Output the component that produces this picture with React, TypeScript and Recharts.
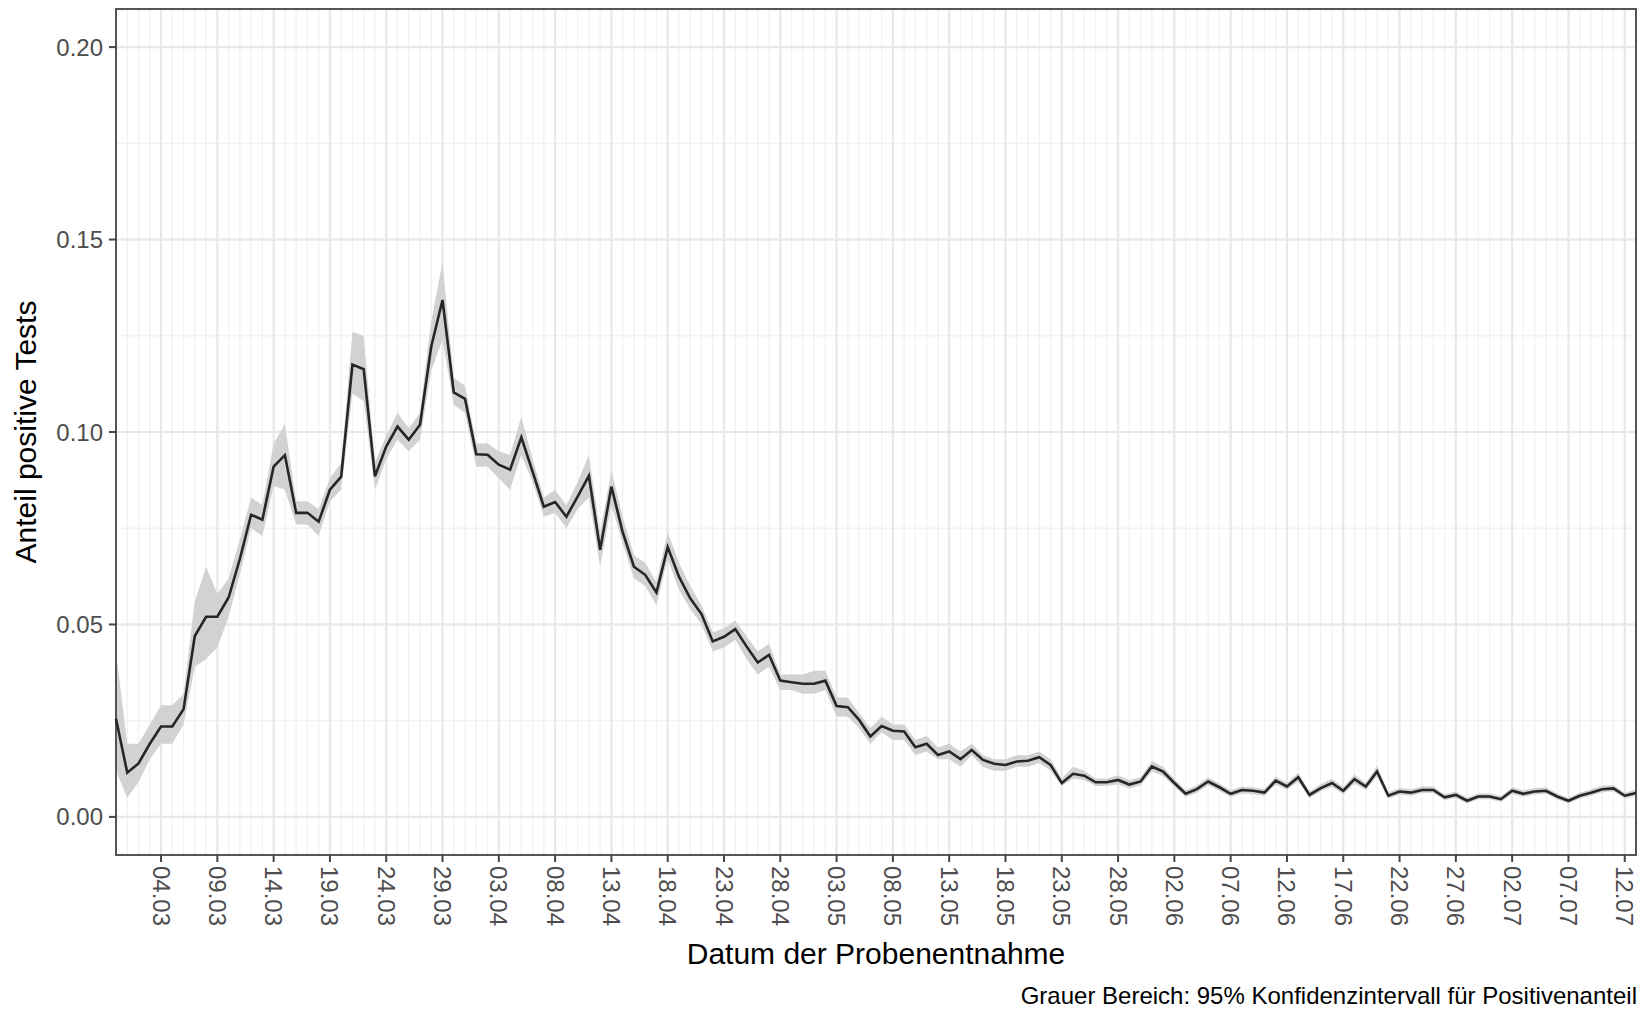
import { ComposedChart, Line, Area, XAxis, YAxis, CartesianGrid, ReferenceArea } from 'recharts'

// Anteil positiver Tests je Tag, Tag 0 = 29.02., Tag 135 = 13.07.
const positiveShare = [
  0.0255, 0.0115, 0.0139, 0.019, 0.0235, 0.0235, 0.028, 0.047, 0.052, 0.052,
  0.057, 0.067, 0.0785, 0.0772, 0.091, 0.094, 0.079, 0.079, 0.0767, 0.085,
  0.0884, 0.1175, 0.1163, 0.0885, 0.0962, 0.1014, 0.098, 0.1019, 0.1222, 0.1343,
  0.1103, 0.1086, 0.0942, 0.0941, 0.0915, 0.0902, 0.0986, 0.0897, 0.0806, 0.0818,
  0.078, 0.0832, 0.0886, 0.0694, 0.0858, 0.074, 0.065, 0.0629, 0.0583, 0.0701,
  0.0624, 0.0568, 0.0527, 0.0456, 0.0468, 0.0488, 0.0443, 0.0401, 0.0421, 0.0354,
  0.035, 0.0346, 0.0346, 0.0354, 0.0288, 0.0285, 0.0252, 0.0209, 0.0236, 0.0224,
  0.0222, 0.0181, 0.019, 0.0161, 0.017, 0.015, 0.0174, 0.0148, 0.0138, 0.0135,
  0.0144, 0.0146, 0.0155, 0.0135, 0.0088, 0.0112, 0.0107, 0.009, 0.009, 0.0096,
  0.0084, 0.0092, 0.0131, 0.0118, 0.0088, 0.006, 0.0072, 0.0092, 0.0077, 0.006,
  0.007, 0.0068, 0.0063, 0.0094, 0.0079, 0.0103, 0.0057, 0.0075, 0.0088, 0.0068,
  0.0098, 0.0079, 0.0118, 0.0055, 0.0066, 0.0063, 0.007, 0.007, 0.0051, 0.0057,
  0.0042, 0.0053, 0.0053, 0.0046, 0.0068, 0.006, 0.0066, 0.0068, 0.0053, 0.0042,
  0.0055, 0.0063, 0.0072, 0.0074, 0.0055, 0.0062,
]

const ciLower = [
  0.012, 0.005, 0.009, 0.015, 0.019, 0.019, 0.024, 0.039, 0.041, 0.044,
  0.052, 0.063, 0.075, 0.073, 0.086, 0.085, 0.076, 0.076, 0.073, 0.082,
  0.085, 0.11, 0.108, 0.085, 0.093, 0.098, 0.095, 0.098, 0.116, 0.124,
  0.107, 0.105, 0.091, 0.091, 0.088, 0.085, 0.094, 0.087, 0.078, 0.079,
  0.075, 0.08, 0.083, 0.065, 0.081, 0.071, 0.062, 0.06, 0.055, 0.067,
  0.059, 0.054, 0.05, 0.043, 0.044, 0.046, 0.041, 0.037, 0.039, 0.033,
  0.033, 0.032, 0.032, 0.033, 0.026, 0.026, 0.023, 0.019, 0.022, 0.02,
  0.02, 0.016, 0.017, 0.015, 0.015, 0.013, 0.016, 0.013, 0.012, 0.012,
  0.013, 0.013, 0.014, 0.012, 0.008, 0.01, 0.0095, 0.008, 0.008, 0.0085,
  0.0074, 0.0082, 0.0118, 0.0106, 0.0078, 0.0052, 0.0063, 0.0082, 0.0068, 0.0052,
  0.0061, 0.0059, 0.0055, 0.0084, 0.007, 0.0092, 0.0049, 0.0066, 0.0078, 0.0059,
  0.0087, 0.007, 0.0105, 0.0047, 0.0058, 0.0055, 0.0062, 0.0062, 0.0044, 0.0049,
  0.0035, 0.0046, 0.0046, 0.0039, 0.006, 0.0052, 0.0058, 0.006, 0.0046, 0.0035,
  0.0048, 0.0055, 0.0064, 0.0066, 0.0048, 0.0054,
]

const ciUpper = [
  0.043, 0.019, 0.019, 0.024, 0.029, 0.029, 0.032, 0.056, 0.065, 0.058,
  0.062, 0.072, 0.083, 0.081, 0.097, 0.102, 0.082, 0.082, 0.08, 0.088,
  0.092, 0.126, 0.125, 0.092, 0.099, 0.105, 0.101, 0.105, 0.129, 0.144,
  0.114, 0.112, 0.097, 0.097, 0.095, 0.094, 0.104, 0.093, 0.083, 0.085,
  0.081, 0.087, 0.094, 0.074, 0.09, 0.078, 0.068, 0.066, 0.061, 0.074,
  0.066, 0.06, 0.055, 0.048, 0.049, 0.051, 0.047, 0.043, 0.045, 0.037,
  0.037, 0.037, 0.038, 0.038, 0.031, 0.031, 0.027, 0.023, 0.026, 0.024,
  0.024, 0.02, 0.021, 0.018, 0.019, 0.017, 0.019, 0.016, 0.015, 0.015,
  0.016, 0.016, 0.017, 0.015, 0.01, 0.013, 0.012, 0.01, 0.01, 0.0108,
  0.0095, 0.0103, 0.0145, 0.013, 0.0099, 0.0069, 0.0082, 0.0103, 0.0087, 0.0069,
  0.0079, 0.0077, 0.0072, 0.0105, 0.0089, 0.0115, 0.0066, 0.0085, 0.0099, 0.0077,
  0.011, 0.0089, 0.0132, 0.0064, 0.0075, 0.0072, 0.0079, 0.0079, 0.0059, 0.0066,
  0.005, 0.0061, 0.0061, 0.0054, 0.0077, 0.0069, 0.0075, 0.0077, 0.0061, 0.005,
  0.0063, 0.0072, 0.0081, 0.0083, 0.0063, 0.0071,
]

const tickDays = [4, 9, 14, 19, 24, 29, 34, 39, 44, 49, 54, 59, 64, 69, 74, 79, 84, 89, 94, 99, 104, 109, 114, 119, 124, 129, 134]
const tickLabels = [
  '04.03', '09.03', '14.03', '19.03', '24.03', '29.03', '03.04', '08.04', '13.04', '18.04',
  '23.04', '28.04', '03.05', '08.05', '13.05', '18.05', '23.05', '28.05', '02.06', '07.06',
  '12.06', '17.06', '22.06', '27.06', '02.07', '07.07', '12.07',
]
const yTicks = [0, 0.05, 0.1, 0.15, 0.2]
const yMinor = [0.025, 0.075, 0.125, 0.175]

const xDomain = [0, 135]
const yDomain = [-0.0099, 0.2099]
const FONT = '"Liberation Sans", Arial, sans-serif'

const data = positiveShare.map((v, i) => ({ day: i, share: v, ci: [ciLower[i], ciUpper[i]] }))
const xMinor = data.map((d) => d.day).filter((d) => !tickDays.includes(d))

function XTick(props: any) {
  const { x, y, payload } = props
  const label = tickLabels[tickDays.indexOf(payload.value)]
  return (
    <text
      x={x}
      y={y}
      transform={`rotate(90, ${x}, ${y})`}
      textAnchor="start"
      dominantBaseline="central"
      fill="#4d4d4d"
      fontSize={24}
      fontFamily={FONT}
    >
      {label}
    </text>
  )
}

export default function App() {
  return (
    <div style={{ position: 'absolute', left: 0, top: 0, width: 1648, height: 1011, background: '#fff', fontFamily: FONT }}>
      <ComposedChart
        width={1648}
        height={1011}
        data={data}
        margin={{ top: 9, right: 12, left: 16, bottom: 76 }}
      >
        {/* minor grid: daily lines and half steps on y */}
        <CartesianGrid
          verticalValues={xMinor}
          horizontalValues={yMinor}
          stroke="#f1f1f1"
          strokeWidth={1.3}
        />
        <CartesianGrid
          verticalValues={tickDays}
          horizontalValues={yTicks}
          stroke="#e8e8e8"
          strokeWidth={2.2}
        />
        <XAxis
          type="number"
          dataKey="day"
          domain={xDomain}
          ticks={tickDays}
          interval={0}
          height={80}
          tickSize={7}
          tickMargin={4}
          axisLine={false}
          tickLine={{ stroke: '#444', strokeWidth: 2 }}
          tick={<XTick />}
        />
        <YAxis
          type="number"
          domain={yDomain}
          allowDataOverflow
          ticks={yTicks}
          width={100}
          tickSize={7}
          tickMargin={6}
          axisLine={false}
          tickLine={{ stroke: '#444', strokeWidth: 2 }}
          tick={{ fill: '#4d4d4d', fontSize: 24, fontFamily: FONT }}
          tickFormatter={(v: number) => v.toFixed(2)}
        />
        <Area
          dataKey="ci"
          type="linear"
          fill="#d2d2d2"
          fillOpacity={1}
          stroke="none"
          isAnimationActive={false}
        />
        <Line
          dataKey="share"
          type="linear"
          stroke="#262626"
          strokeWidth={2.6}
          dot={false}
          isAnimationActive={false}
        />
        <ReferenceArea
          x1={xDomain[0]}
          x2={xDomain[1]}
          y1={yDomain[0]}
          y2={yDomain[1]}
          ifOverflow="visible"
          fill="#fff"
          fillOpacity={0}
          stroke="#555"
          strokeWidth={2}
        />
      </ComposedChart>
      <div
        style={{
          position: 'absolute',
          left: 26,
          top: 432,
          transform: 'translate(-50%, -50%) rotate(-90deg)',
          whiteSpace: 'nowrap',
          fontSize: 30,
          lineHeight: 1,
          color: '#000',
        }}
      >
        Anteil positive Tests
      </div>
      <div
        style={{
          position: 'absolute',
          left: 876,
          top: 954,
          transform: 'translate(-50%, -50%)',
          whiteSpace: 'nowrap',
          fontSize: 30,
          lineHeight: 1,
          color: '#000',
        }}
      >
        Datum der Probenentnahme
      </div>
      <div
        style={{
          position: 'absolute',
          right: 1648 - 1637,
          top: 996,
          transform: 'translateY(-50%)',
          whiteSpace: 'nowrap',
          fontSize: 24,
          lineHeight: 1,
          color: '#000',
        }}
      >
        Grauer Bereich: 95% Konfidenzintervall für Positivenanteil
      </div>
    </div>
  )
}
